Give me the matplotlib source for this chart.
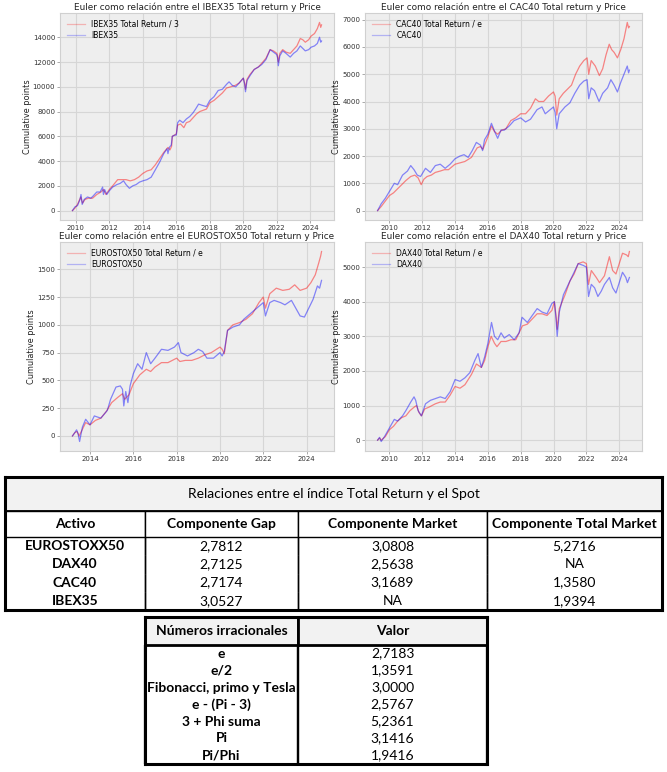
import matplotlib
matplotlib.use("Agg")
import matplotlib.pyplot as plt
from matplotlib.ticker import MultipleLocator, FuncFormatter

# ---------------- data ----------------
# IBEX35
ibex_tr_t = [2009.80, 2009.95, 2010.10, 2010.30, 2010.40, 2010.55, 2010.75, 2011.00, 2011.25,
             2011.50, 2011.65, 2011.80, 2012.00, 2012.20, 2012.50, 2012.75, 2013.00, 2013.25,
             2013.50, 2013.75, 2014.00, 2014.25, 2014.50, 2014.75, 2015.00, 2015.25, 2015.50,
             2015.62, 2015.72, 2015.76, 2015.90, 2016.00, 2016.08, 2016.25, 2016.45, 2016.60,
             2016.80, 2017.00, 2017.20, 2017.40, 2017.60, 2017.80, 2018.00, 2018.25, 2018.50,
             2018.75, 2019.00, 2019.25, 2019.50, 2019.75, 2020.00, 2020.08, 2020.13, 2020.22,
             2020.40, 2020.65, 2020.90, 2021.10, 2021.35, 2021.60, 2021.80, 2022.00, 2022.05,
             2022.09, 2022.18, 2022.35, 2022.55, 2022.80, 2023.00, 2023.20, 2023.40, 2023.55,
             2023.70, 2023.90, 2024.05, 2024.25, 2024.42, 2024.55, 2024.62, 2024.67]
ibex_tr_v = [0, 200, 500, 1100, 600, 900, 1000, 1000, 1300,
             1500, 1700, 1300, 1700, 2000, 2500, 2500, 2500, 2400,
             2500, 2700, 3000, 3200, 3300, 3700, 4200, 4700, 5100,
             4900, 5200, 6000, 6100, 6200, 6900, 7000, 6700, 7100,
             7200, 7500, 7800, 8000, 8100, 8200, 8700, 8900, 9200,
             9500, 9900, 10000, 10100, 10300, 10700, 10300, 9800, 10600,
             11000, 11400, 11600, 11900, 12300, 13000, 12900, 12700, 12400,
             12000, 12700, 13000, 12800, 12700, 13000, 13300, 13900, 13800,
             13600, 13800, 14100, 14300, 14700, 15200, 14800, 15000]
ibex_t = [2009.80, 2009.95, 2010.10, 2010.25, 2010.31, 2010.38, 2010.50, 2010.70, 2010.90,
          2011.05, 2011.25, 2011.45, 2011.60, 2011.65, 2011.72, 2011.85, 2012.00, 2012.20,
          2012.45, 2012.65, 2012.85, 2013.00, 2013.20, 2013.40, 2013.60, 2013.80, 2014.00,
          2014.25, 2014.50, 2014.75, 2015.00, 2015.25, 2015.45, 2015.50, 2015.58, 2015.70,
          2015.76, 2015.90, 2016.00, 2016.08, 2016.20, 2016.40, 2016.60, 2016.80, 2017.00,
          2017.15, 2017.33, 2017.55, 2017.80, 2018.00, 2018.25, 2018.50, 2018.75, 2019.00,
          2019.15, 2019.35, 2019.55, 2019.75, 2020.00, 2020.08, 2020.13, 2020.22, 2020.40,
          2020.65, 2020.90, 2021.10, 2021.35, 2021.60, 2021.80, 2022.00, 2022.05, 2022.09,
          2022.18, 2022.35, 2022.55, 2022.80, 2023.00, 2023.20, 2023.40, 2023.55, 2023.70,
          2023.90, 2024.05, 2024.25, 2024.42, 2024.55, 2024.62, 2024.67]
ibex_v = [0, 300, 400, 900, 1300, 500, 900, 1100, 1000,
          1200, 1500, 1500, 1900, 1300, 1700, 1300, 1600, 1900,
          2100, 2200, 2400, 2100, 1800, 2000, 2100, 2300, 2400,
          2500, 2700, 3300, 3900, 4600, 5000, 4600, 5100, 5300,
          6000, 6100, 6100, 7100, 7300, 7100, 7400, 7600, 7900,
          8200, 8600, 8500, 8400, 8900, 9200, 9700, 9800, 10200,
          10400, 10100, 10000, 10300, 10700, 10200, 9600, 10500, 10900,
          11400, 11600, 11800, 12200, 13000, 12800, 12600, 12300, 11700,
          12500, 12900, 12700, 12400, 12700, 12900, 13300, 13100, 12900,
          13000, 13200, 13300, 13500, 14000, 13600, 13700]

# CAC40
cac_tr_t = [2009.28, 2009.50, 2009.75, 2010.00, 2010.25, 2010.50, 2010.75, 2011.00, 2011.30,
            2011.55, 2011.75, 2011.94, 2012.10, 2012.30, 2012.55, 2012.80, 2013.10, 2013.35,
            2013.60, 2014.00, 2014.30, 2014.60, 2015.00, 2015.35, 2015.55, 2015.70, 2016.00,
            2016.22, 2016.40, 2016.60, 2016.85, 2017.10, 2017.40, 2017.70, 2018.00, 2018.30,
            2018.60, 2018.90, 2019.10, 2019.40, 2019.70, 2020.00, 2020.10, 2020.20, 2020.35,
            2020.60, 2020.85, 2021.10, 2021.35, 2021.60, 2021.85, 2022.05, 2022.15, 2022.30,
            2022.55, 2022.80, 2023.00, 2023.20, 2023.40, 2023.55, 2023.70, 2023.90, 2024.10,
            2024.30, 2024.50, 2024.58, 2024.63]
cac_tr_v = [0, 150, 350, 550, 650, 800, 950, 1100, 1250,
            1300, 1200, 950, 1150, 1250, 1300, 1400, 1450, 1500,
            1500, 1700, 1750, 1800, 1950, 2300, 2350, 2250, 2700,
            3100, 2900, 2800, 2950, 3000, 3300, 3400, 3550, 3550,
            3750, 4100, 4000, 4000, 4200, 4350, 4200, 3500, 4100,
            4300, 4450, 4600, 5000, 5300, 5500, 5600, 5000, 5500,
            5300, 4950, 5200, 5700, 6100, 5900, 5800, 5600, 5900,
            6300, 6900, 6700, 6750]
cac_t = [2009.28, 2009.50, 2009.75, 2010.00, 2010.30, 2010.50, 2010.80, 2011.10, 2011.30,
         2011.50, 2011.70, 2011.90, 2012.20, 2012.50, 2012.80, 2013.10, 2013.40, 2013.70,
         2014.00, 2014.30, 2014.55, 2014.80, 2015.05, 2015.30, 2015.55, 2015.68, 2015.80,
         2016.00, 2016.22, 2016.45, 2016.60, 2016.80, 2017.00, 2017.30, 2017.60, 2018.00,
         2018.30, 2018.60, 2019.00, 2019.30, 2019.50, 2019.80, 2020.00, 2020.10, 2020.20,
         2020.35, 2020.70, 2021.00, 2021.30, 2021.60, 2021.85, 2022.05, 2022.15, 2022.30,
         2022.50, 2022.78, 2023.00, 2023.30, 2023.50, 2023.70, 2023.90, 2024.10, 2024.30,
         2024.50, 2024.58, 2024.63]
cac_v = [0, 250, 450, 700, 1000, 950, 1300, 1450, 1650,
         1500, 1300, 1250, 1550, 1400, 1650, 1700, 1550, 1700,
         1900, 2000, 2050, 1950, 2200, 2500, 2400, 2200, 2600,
         2800, 3200, 2850, 2650, 2950, 2950, 3100, 3300, 3400,
         3250, 3350, 3700, 3800, 3550, 3700, 3800, 3600, 3000,
         3550, 3800, 3950, 4300, 4600, 4750, 4800, 4100, 4500,
         4400, 4000, 4300, 4500, 4800, 4600, 4350, 4700, 5000,
         5300, 5050, 5150]

# EUROSTOX50
euro_tr_t = [2013.19, 2013.30, 2013.40, 2013.50, 2013.65, 2013.80, 2014.00, 2014.25, 2014.50,
             2014.75, 2015.00, 2015.30, 2015.50, 2015.60, 2015.80, 2016.00, 2016.30, 2016.60,
             2016.80, 2017.00, 2017.30, 2017.60, 2018.00, 2018.15, 2018.40, 2018.70, 2019.00,
             2019.30, 2019.60, 2020.00, 2020.10, 2020.20, 2020.35, 2020.60, 2020.90, 2021.20,
             2021.50, 2021.80, 2022.00, 2022.10, 2022.30, 2022.60, 2022.90, 2023.20, 2023.45,
             2023.70, 2024.00, 2024.20, 2024.40, 2024.55, 2024.65, 2024.69]
euro_tr_v = [0, 30, 40, 0, 60, 120, 100, 140, 160,
             220, 300, 350, 380, 330, 370, 470, 550, 600,
             580, 620, 660, 660, 700, 670, 680, 680, 700,
             730, 750, 800, 780, 740, 950, 1000, 1020, 1050,
             1100, 1200, 1250, 1150, 1280, 1330, 1310, 1320, 1360,
             1310, 1330, 1380, 1450, 1550, 1620, 1660]
euro_t = [2013.19, 2013.30, 2013.38, 2013.45, 2013.52, 2013.65, 2013.80, 2014.00, 2014.20,
          2014.50, 2014.80, 2014.95, 2015.20, 2015.40, 2015.50, 2015.56, 2015.65, 2015.75,
          2015.85, 2016.00, 2016.20, 2016.40, 2016.60, 2016.80, 2017.00, 2017.30, 2017.60,
          2017.90, 2018.08, 2018.20, 2018.50, 2018.80, 2019.00, 2019.20, 2019.40, 2019.70,
          2020.00, 2020.10, 2020.20, 2020.35, 2020.60, 2020.90, 2021.10, 2021.40, 2021.70,
          2022.00, 2022.10, 2022.30, 2022.50, 2022.80, 2023.00, 2023.30, 2023.50, 2023.70,
          2023.90, 2024.10, 2024.30, 2024.50, 2024.60, 2024.69]
euro_v = [0, 30, 55, 20, -50, 80, 150, 100, 180,
          160, 230, 330, 440, 450, 420, 270, 400, 300,
          450, 560, 650, 600, 750, 650, 700, 780, 770,
          800, 840, 750, 720, 750, 780, 760, 700, 700,
          750, 720, 760, 950, 980, 1000, 1050, 1100, 1150,
          1200, 1080, 1200, 1220, 1200, 1180, 1220, 1150, 1080,
          1070, 1150, 1230, 1350, 1330, 1400]

# DAX40
dax_tr_t = [2009.28, 2009.40, 2009.50, 2009.75, 2010.00, 2010.25, 2010.50, 2010.75, 2011.00,
            2011.25, 2011.50, 2011.65, 2011.80, 2011.95, 2012.15, 2012.40, 2012.80, 2013.10,
            2013.40, 2013.70, 2014.00, 2014.30, 2014.60, 2015.00, 2015.30, 2015.60, 2015.80,
            2016.00, 2016.20, 2016.40, 2016.55, 2016.80, 2017.10, 2017.40, 2017.70, 2018.10,
            2018.40, 2018.70, 2019.00, 2019.30, 2019.60, 2019.90, 2020.05, 2020.15, 2020.22,
            2020.35, 2020.70, 2021.00, 2021.25, 2021.50, 2021.80, 2022.00, 2022.13, 2022.30,
            2022.60, 2022.80, 2023.10, 2023.40, 2023.60, 2023.80, 2024.00, 2024.20, 2024.45,
            2024.55, 2024.62]
dax_tr_v = [0, 60, 0, 100, 300, 400, 550, 650, 700,
            850, 950, 1000, 800, 700, 900, 950, 1050, 1100,
            1100, 1300, 1550, 1500, 1600, 1900, 2200, 2100, 2300,
            2700, 3000, 2800, 2700, 2850, 2850, 2900, 2900, 3300,
            3350, 3500, 3650, 3650, 3600, 3750, 4000, 3600, 3200,
            3800, 4200, 4600, 4800, 5100, 5150, 5100, 4500, 4900,
            4700, 4550, 4750, 5300, 4900, 4800, 5100, 5400, 5350,
            5300, 5450]
dax_t = [2009.28, 2009.40, 2009.50, 2009.70, 2010.00, 2010.30, 2010.50, 2010.80, 2011.00,
         2011.30, 2011.50, 2011.60, 2011.75, 2011.95, 2012.20, 2012.50, 2012.80, 2013.10,
         2013.40, 2013.70, 2014.00, 2014.30, 2014.60, 2014.90, 2015.20, 2015.40, 2015.60,
         2015.80, 2016.00, 2016.22, 2016.40, 2016.60, 2016.80, 2017.00, 2017.30, 2017.60,
         2017.90, 2018.08, 2018.40, 2018.70, 2019.00, 2019.30, 2019.60, 2019.90, 2020.05,
         2020.15, 2020.22, 2020.35, 2020.60, 2020.90, 2021.20, 2021.50, 2021.80, 2022.00,
         2022.13, 2022.30, 2022.50, 2022.70, 2022.90, 2023.10, 2023.40, 2023.60, 2023.80,
         2024.00, 2024.20, 2024.40, 2024.50, 2024.62]
dax_v = [0, 80, -40, 100, 350, 600, 550, 700, 850,
         1100, 1250, 1150, 850, 700, 1050, 1150, 1200, 1250,
         1200, 1400, 1750, 1700, 1800, 1950, 2300, 2500, 2100,
         2400, 2800, 3400, 3000, 2900, 3100, 2950, 3050, 2900,
         3100, 3550, 3400, 3600, 3800, 3700, 3650, 3950, 4000,
         3500, 3000, 3700, 4200, 4500, 4800, 5100, 5050, 5000,
         4150, 4500, 4400, 4150, 4300, 4500, 4700, 4400, 4250,
         4550, 4850, 4700, 4550, 4700]

panel_titles = ["Euler como relación entre el IBEX35 Total return y Price",
                "Euler como relación entre el CAC40 Total return y Price",
                "Euler como relación entre el EUROSTOX50 Total return y Price",
                "Euler como relación entre el DAX40 Total return y Price"]
panel_labels = [("IBEX35 Total Return / 3", "IBEX35"),
                ("CAC40 Total Return / e", "CAC40"),
                ("EUROSTOX50 Total Return / e", "EUROSTOX50"),
                ("DAX40 Total Return / e", "DAX40")]
panel_series = [(ibex_tr_t, ibex_tr_v, ibex_t, ibex_v),
                (cac_tr_t, cac_tr_v, cac_t, cac_v),
                (euro_tr_t, euro_tr_v, euro_t, euro_v),
                (dax_tr_t, dax_tr_v, dax_t, dax_v)]

# Tables
t1_title = "Relaciones entre el índice Total Return y el Spot"
t1_cols = ["Activo", "Componente Gap", "Componente Market", "Componente Total Market"]
t1_assets = ["EUROSTOXX50", "DAX40", "CAC40", "IBEX35"]
t1_gap = ["2,7812", "2,7125", "2,7174", "3,0527"]
t1_market = ["3,0808", "2,5638", "3,1689", "NA"]
t1_total = ["5,2716", "NA", "1,3580", "1,9394"]

t2_cols = ["Números irracionales", "Valor"]
t2_names = ["e", "e/2", "Fibonacci, primo y Tesla", "e - (Pi - 3)", "3 + Phi suma", "Pi", "Pi/Phi"]
t2_vals = ["2,7183", "1,3591", "3,0000", "2,5767", "5,2361", "3,1416", "1,9416"]

# ---------------- figure ----------------
W, H = 667, 772
fig = plt.figure(figsize=(W / 100, H / 100), dpi=100)
fig.patch.set_facecolor("white")


def frac(x0, y0, x1, y1):
    return [x0 / W, 1 - y1 / H, (x1 - x0) / W, (y1 - y0) / H]


axes_boxes = [frac(60, 13, 334, 220), frac(365, 13, 642, 220),
              frac(60, 242, 334, 451), frac(365, 242, 642, 451)]

for box, title, (lab_tr, lab_p), (tt, tv, pt, pv) in zip(axes_boxes, panel_titles,
                                                        panel_labels, panel_series):
    ax = fig.add_axes(box)
    ax.set_facecolor("#eeeeee")
    ax.plot(tt, tv, color="red", lw=0.9, alpha=0.45, label=lab_tr)
    ax.plot(pt, pv, color="blue", lw=0.9, alpha=0.45, label=lab_p)
    ax.grid(True, color="#d6d6d6", lw=0.8)
    ax.set_axisbelow(True)
    for s in ax.spines.values():
        s.set_color("#d0d0d0")
        s.set_linewidth(0.8)
    ax.xaxis.set_major_locator(MultipleLocator(2))
    ax.xaxis.set_major_formatter(FuncFormatter(lambda v, p: f"{int(round(v))}"))
    ax.tick_params(labelsize=5, colors="#333333", length=2, width=0.5, pad=1.5)
    ax.tick_params(color="#888888")
    ax.set_title(title, fontsize=6.4, pad=2.5, color="#222222")
    ax.set_ylabel("Cumulative points", fontsize=5.9, labelpad=0.8, color="#222222")
    leg = ax.legend(loc="upper left", frameon=False, fontsize=5.5, handlelength=2.4,
                    borderaxespad=0.5, labelspacing=0.3)
    for h in leg.get_lines():
        h.set_alpha(0.25)

# ---------- table 1 ----------
TFONT = "Lato"
FS = 10.0
tab1_box = frac(5, 477, 662, 610)
ax1 = fig.add_axes(tab1_box)
ax1.set_xticks([])
ax1.set_yticks([])
for s in ax1.spines.values():
    s.set_linewidth(2.2)
    s.set_color("black")
    s.set_zorder(10)

title_h = 34 / 133
tt = ax1.table(cellText=[[t1_title]], cellLoc="center", bbox=[0, 1 - title_h, 1, title_h])
tt.auto_set_font_size(False)
c = tt[0, 0]
c.set_facecolor("#f2f2f2")
c.set_linewidth(1.3)
c.get_text().set_fontsize(FS)
c.get_text().set_fontfamily(TFONT)

rows1 = [[a, g, m, t] for a, g, m, t in zip(t1_assets, t1_gap, t1_market, t1_total)]
tab1 = ax1.table(cellText=rows1, colLabels=t1_cols, cellLoc="center",
                 colWidths=[140, 153, 189, 175], bbox=[0, 0, 1, 1 - title_h])
tab1.auto_set_font_size(False)
for (r, col), cell in tab1.get_celld().items():
    txt = cell.get_text()
    txt.set_fontfamily(TFONT)
    txt.set_fontsize(FS)
    cell.set_linewidth(1.0)
    if r == 0:
        cell.set_height(26)
        txt.set_fontweight("bold")
    else:
        cell.set_height(18.25)
        cell.visible_edges = "LR"
        if col == 0:
            txt.set_fontweight("bold")

# ---------- table 2 ----------
tab2_box = frac(145, 617, 487, 764)
ax2 = fig.add_axes(tab2_box)
ax2.set_xticks([])
ax2.set_yticks([])
for s in ax2.spines.values():
    s.set_linewidth(2.2)
    s.set_color("black")
    s.set_zorder(10)

rows2 = [[n, v] for n, v in zip(t2_names, t2_vals)]
tab2 = ax2.table(cellText=rows2, colLabels=t2_cols, cellLoc="center",
                 colWidths=[153, 189], bbox=[0, 0, 1, 1])
tab2.auto_set_font_size(False)
for (r, col), cell in tab2.get_celld().items():
    txt = cell.get_text()
    txt.set_fontfamily(TFONT)
    txt.set_fontsize(FS)
    if r == 0:
        cell.set_height(28)
        cell.set_facecolor("#f2f2f2")
        cell.set_linewidth(2.0)
        txt.set_fontweight("bold")
    else:
        cell.set_height(17)
        cell.set_linewidth(1.6)
        cell.visible_edges = "LR"
        if col == 0:
            txt.set_fontweight("bold")

fig.savefig("out.png", dpi=100, facecolor="white")
